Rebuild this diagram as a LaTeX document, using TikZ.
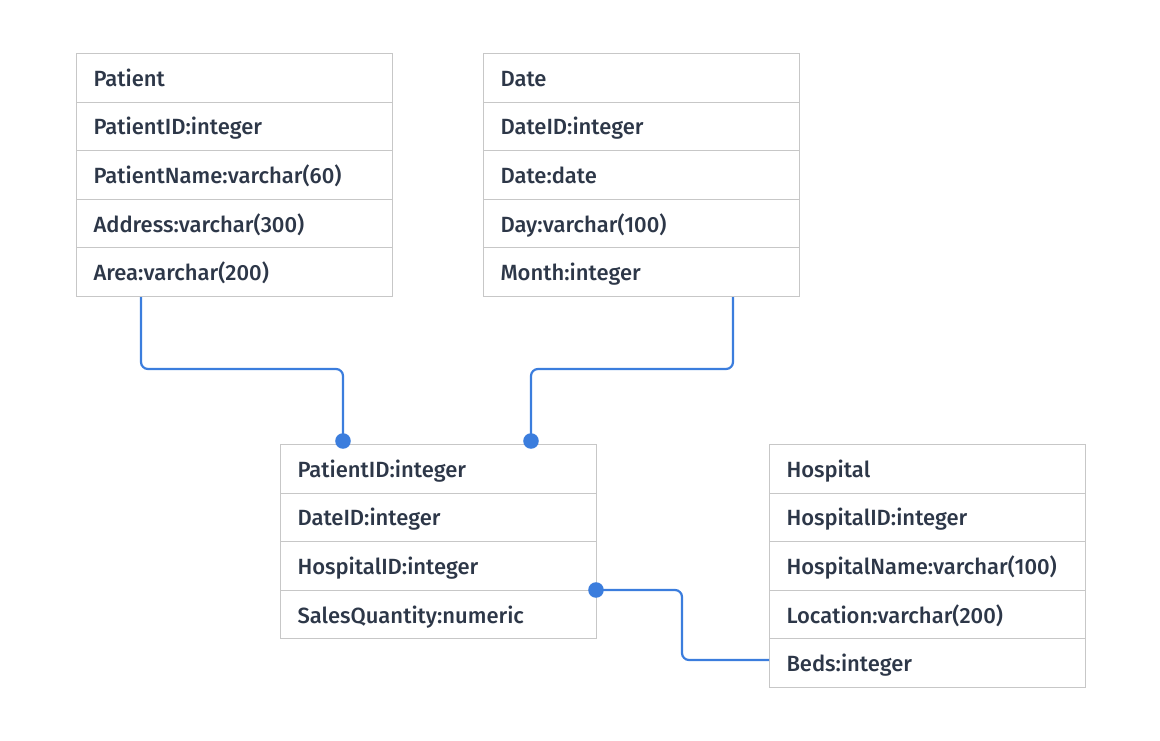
\documentclass[tikz,border=0pt]{standalone}
\usepackage{fontspec}
\setmainfont{Fira Sans}[UprightFont=* Medium,BoldFont=* SemiBold]
\begin{document}
\begin{tikzpicture}[x=1pt,y=-1pt,
  cell/.style={draw=black!22,line width=1pt,minimum width=316pt,minimum height=48.6pt,anchor=north west,inner xsep=17pt,inner ysep=0pt,text=txt,font=\fontsize{22}{24}\selectfont,text width=282pt,align=left,text height=17pt,text depth=0pt},
  conn/.style={draw=lnk,line width=2.2pt,rounded corners=7pt},
  dot/.style={circle,fill=lnk,inner sep=5.5pt}]
\definecolor{txt}{HTML}{2D3748}
\definecolor{lnk}{HTML}{3B7DDD}
\useasboundingbox (0,0) rectangle (1160,741);
\foreach \n/\t [count=\i from 0] in {p0/Patient,p1/PatientID:integer,p2/PatientName:varchar(60),p3/Address:varchar(300),p4/Area:varchar(200)}
  \node[cell] (\n) at (76,53+48.6*\i) {\t};
\foreach \n/\t [count=\i from 0] in {d0/Date,d1/DateID:integer,d2/Date:date,d3/Day:varchar(100),d4/Month:integer}
  \node[cell] (\n) at (483,53+48.6*\i) {\t};
\foreach \n/\t [count=\i from 0] in {f0/PatientID:integer,f1/DateID:integer,f2/HospitalID:integer,f3/SalesQuantity:numeric}
  \node[cell] (\n) at (280,444+48.6*\i) {\t};
\foreach \n/\t [count=\i from 0] in {h0/Hospital,h1/HospitalID:integer,h2/HospitalName:varchar(100),h3/Location:varchar(200),h4/Beds:integer}
  \node[cell] (\n) at (769,444+48.6*\i) {\t};
\coordinate (e1) at (343,441);
\coordinate (e2) at (531,441);
\coordinate (e3) at (596,590);
\draw[conn] (p4.south west) ++(65,0) coordinate (s1) -- (141,369) -- (343,369) -- (e1);
\draw[conn] (d4.south west) ++(250,0) -- (733,369) -- (531,369) -- (e2);
\draw[conn] (e3) -- (682,590) -- (682,660) -- (h4.west |- 0,660);
\node[dot] at (e1) {};
\node[dot] at (e2) {};
\node[dot] at (e3) {};
\end{tikzpicture}
\end{document}
